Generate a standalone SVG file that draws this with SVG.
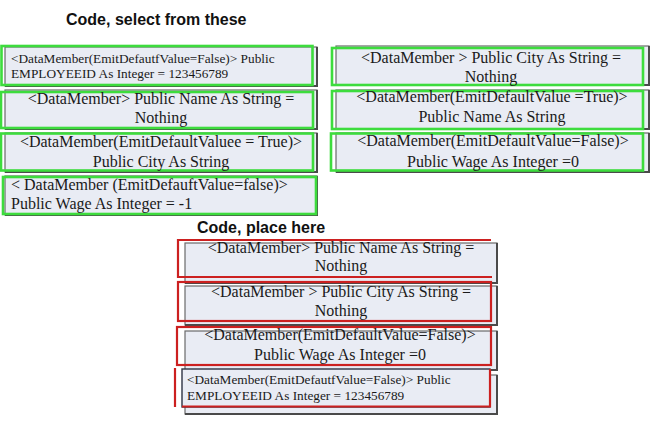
<svg xmlns="http://www.w3.org/2000/svg" width="657" height="426" viewBox="0 0 657 426">
<style>
.bx{fill:#e9ecf4;stroke:#6a6a6a;stroke-width:1.2}
.sh{fill:none;stroke:#4a4a4a;stroke-width:2}
.g{fill:none;stroke:#3ddc3d;stroke-width:2.6}
.r{fill:none;stroke:#cc2020;stroke-width:2.2}
.nv{fill:#e9ecf4;stroke:#2e3444;stroke-width:1.4}
.t{font-family:"Liberation Serif","Times New Roman",serif;font-size:16px;fill:#1a1a1a}
.s{font-size:13.3px}
.c{text-anchor:middle}
.h{font-family:"Liberation Sans",Arial,sans-serif;font-weight:bold;font-size:16px;fill:#111}
</style>
<rect width="657" height="426" fill="#ffffff"/>
<text class="h" x="66" y="25">Code, select from these</text>
<text class="h" x="197" y="233">Code, place here</text>

<g id="l1">
<rect class="bx" x="5" y="47" width="312" height="39"/>
<path class="sh" d="M317,47 V86 H5"/>
<rect class="g" x="1.5" y="46" width="311" height="39"/>
<text class="t s" x="11" y="62.5">&lt;DataMember(EmitDefautfValue=False)&gt; Public</text>
<text class="t s" x="11" y="78">EMPLOYEEID As Integer = 123456789</text>
</g>
<g id="l2">
<rect class="bx" x="5" y="90" width="312" height="39"/>
<path class="sh" d="M317,90 V129 H5"/>
<rect class="g" x="1" y="92" width="312" height="36"/>
<text class="t c" x="161" y="104">&lt;DataMember&gt; Public Name As String =</text>
<text class="t c" x="161" y="123">Nothing</text>
</g>
<g id="l3">
<rect class="bx" x="5" y="133" width="312" height="39"/>
<path class="sh" d="M317,133 V172 H5"/>
<rect class="g" x="1" y="133.5" width="312" height="37"/>
<text class="t c" x="161" y="147">&lt;DataMember(EmitDefaultValuee = True)&gt;</text>
<text class="t c" x="161" y="166.5">Public City As String</text>
</g>
<g id="l4">
<rect class="bx" x="5" y="176" width="312" height="39"/>
<path class="sh" d="M317,176 V215 H5"/>
<rect class="g" x="3" y="177" width="313" height="37"/>
<text class="t" x="11" y="189.5">&lt; DataMember (EmitDefauftValue=false)&gt;</text>
<text class="t" x="11" y="209">Public Wage As Integer = -1</text>
</g>

<g id="r1">
<rect class="bx" x="336" y="46" width="313" height="39"/>
<path class="sh" d="M649,46 V85 H336"/>
<rect class="g" x="332" y="48" width="311" height="37"/>
<text class="t c" x="491" y="63">&lt;DataMember &gt; Public City As String =</text>
<text class="t c" x="491" y="82">Nothing</text>
</g>
<g id="r2">
<rect class="bx" x="336" y="90" width="313" height="39"/>
<path class="sh" d="M649,90 V129 H336"/>
<rect class="g" x="332" y="91" width="311" height="38"/>
<text class="t c" x="492" y="102">&lt;DataMember(EmitDefaultValue =True)&gt;</text>
<text class="t c" x="492" y="122">Public Name As String</text>
</g>
<g id="r3">
<rect class="bx" x="336" y="133" width="313" height="39"/>
<path class="sh" d="M649,133 V172 H336"/>
<rect class="g" x="331" y="133.5" width="312" height="37"/>
<text class="t c" x="493" y="145.5">&lt;DataMember(EmitDefaultValue=False)&gt;</text>
<text class="t c" x="493" y="166.5">Public Wage As Integer =0</text>
</g>

<g id="p1">
<rect class="bx" x="185" y="243" width="312" height="40"/>
<path class="sh" d="M497,243 V283 H185"/>
<path class="r" d="M491,240 H178 V277 H492"/>
<text class="t c" x="341" y="252.5">&lt;DataMember&gt; Public Name As String =</text>
<text class="t c" x="341" y="271">Nothing</text>
</g>
<g id="p2">
<rect class="bx" x="185" y="286" width="312" height="39"/>
<path class="sh" d="M497,286 V325 H185"/>
<rect class="r" x="178" y="282" width="313" height="39"/>
<text class="t c" x="341" y="297">&lt;DataMember &gt; Public City As String =</text>
<text class="t c" x="341" y="315.5">Nothing</text>
</g>
<g id="p3">
<rect class="bx" x="185" y="331" width="312" height="39"/>
<path class="sh" d="M497,331 V370 H185"/>
<rect class="r" x="177" y="327" width="314" height="38"/>
<text class="t c" x="340" y="339.5">&lt;DataMember(EmitDefaultValue=False)&gt;</text>
<text class="t c" x="340" y="360">Public Wage As Integer =0</text>
</g>
<g id="p4">
<rect class="bx" x="185" y="375" width="312" height="39"/>
<path class="sh" d="M497,375 V414 H185"/>
<rect class="nv" x="182" y="369" width="308" height="38"/>
<path class="r" d="M175,368 V407 M182,406.5 H490 V369"/>
<text class="t s" x="187" y="383.5">&lt;DataMember(EmitDefautfValue=False)&gt; Public</text>
<text class="t s" x="187" y="399.5">EMPLOYEEID As Integer = 123456789</text>
</g>
</svg>
